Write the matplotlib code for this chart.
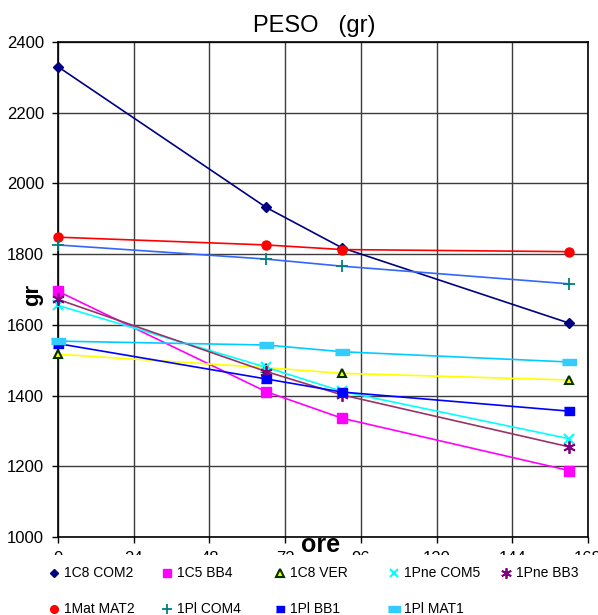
import matplotlib
matplotlib.use("Agg")
import matplotlib.pyplot as plt
from matplotlib.lines import Line2D
from matplotlib.patches import Rectangle

plt.rcParams['font.family'] = ['Liberation Sans', 'DejaVu Sans']

#------------------ data
hours = [0, 66, 90, 162]

c8_com2 = [2330, 1932, 1818, 1605]
c5_bb4 = [1695, 1411, 1336, 1188]
c8_ver = [1517, 1479, 1463, 1444]
pne_com5 = [1655, 1480, 1412, 1278]
pne_bb3 = [1672, 1468, 1402, 1255]
mat_mat2 = [1848, 1826, 1813, 1807]
pl_com4 = [1826, 1786, 1766, 1716]
pl_bb1 = [1547, 1447, 1410, 1356]
pl_mat1 = [1554, 1543, 1524, 1495]

labels = ["1C8 COM2", "1C5 BB4", "1C8 VER", "1Pne COM5", "1Pne BB3",
          "1Mat MAT2", "1Pl COM4", "1Pl BB1", "1Pl MAT1"]
series = [c8_com2, c5_bb4, c8_ver, pne_com5, pne_bb3,
          mat_mat2, pl_com4, pl_bb1, pl_mat1]

x_ticks = [0, 24, 48, 72, 96, 120, 144, 168]
y_ticks = [1000, 1200, 1400, 1600, 1800, 2000, 2200, 2400]

#------------------ styles
wide_bar = [(-1.0, -0.45), (1.0, -0.45), (1.0, 0.45), (-1.0, 0.45)]
small_bar = [(-0.6, -0.45), (0.6, -0.45), (0.6, 0.45), (-0.6, 0.45)]
styles = [
    dict(color='#000080', marker='D', ms=5, mfc='#000080', mec='#000080'),
    dict(color='#FF00FF', marker='s', ms=6.5, mfc='#FF00FF', mec='#FF00FF'),
    dict(color='#FFFF00', marker='^', ms=6, mfc='#FFFF00', mec='#003300', mew=1.5),
    dict(color='#00FFFF', marker='x', ms=7, mfc='#00FFFF', mec='#00FFFF', mew=1.5),
    dict(color='#993366', marker=(6, 2, 0), ms=9, mfc='#800080', mec='#800080', mew=1.3),
    dict(color='#FF0000', marker='o', ms=6.5, mfc='#FF0000', mec='#FF0000'),
    dict(color='#3366FF', marker='+', ms=9, mfc='#008080', mec='#008080', mew=1.3),
    dict(color='#0000FF', marker=small_bar, ms=7, mfc='#0000FF', mec='#0000FF'),
    dict(color='#00CCFF', marker=wide_bar, ms=10, mfc='#33CCFF', mec='#33CCFF'),
]

W, H = 598, 615
fig = plt.figure(figsize=(W / 100, H / 100), dpi=100)
ax = fig.add_axes([58 / W, 1 - 537 / H, 530 / W, 495 / H])

for vals, st in zip(series, styles):
    ax.plot(hours, vals, lw=1.2, clip_on=False, zorder=3, **st)

ax.set_xlim(0, 168)
ax.set_ylim(1000, 2400)
ax.set_xticks(x_ticks)
ax.set_yticks(y_ticks)
ax.grid(True, color='#3c3c3c', lw=1.0)
ax.set_axisbelow(True)
for s in ax.spines.values():
    s.set_linewidth(1.2)
ax.tick_params(length=4, width=1.0, labelsize=12, pad=6)

# titles and axis names
fig.text(314 / W, 1 - 32 / H, "PESO   (gr)", ha='center', va='baseline', fontsize=17)
fig.text(321 / W, 1 - 552 / H, "ore", ha='center', va='baseline', fontsize=18,
         fontweight='bold', zorder=7)
fig.text(33 / W, 1 - 295 / H, "gr", ha='center', va='center', rotation=90,
         fontsize=16, fontweight='bold')

# white band hiding the lower half of the hour labels
fig.add_artist(Rectangle((0, 0), 1, (H - 555) / H, transform=fig.transFigure,
                         facecolor='white', edgecolor='none', zorder=5))

# legend, two rows of markers only
col_x = [54, 167, 280, 394, 506]
row_y = [573, 609]
for i, (lab, st) in enumerate(zip(labels, styles)):
    mx = col_x[i % 5]
    my = row_y[i // 5]
    mst = dict(st)
    mst.pop('color')
    mst['ms'] = mst['ms'] * 0.85
    fig.add_artist(Line2D([mx / W], [1 - my / H], transform=fig.transFigure,
                          linestyle='None', zorder=6, **mst))
    fig.text((mx + 10) / W, 1 - my / H, lab, ha='left', va='center',
             fontsize=10, zorder=6)

fig.savefig("out.png", dpi=100)
